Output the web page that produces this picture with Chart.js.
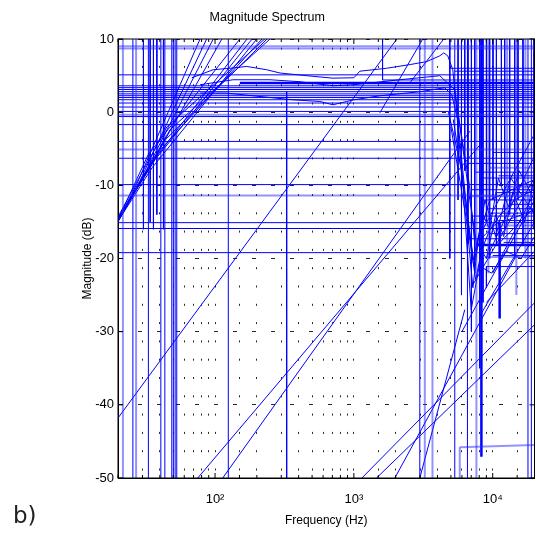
<!DOCTYPE html>
<html>
<head>
<meta charset="utf-8">
<script src="https://cdn.jsdelivr.net/npm/chart.js@4"></script>
<style>
  body { margin: 0; background: #fff; }
  #wrap { position: relative; width: 536px; height: 543px; }
  #tag { position: absolute; left: 13px; top: 502px; font: 23px "DejaVu Sans", sans-serif; color: #222; }
</style>
</head>
<body>
<div id="wrap">
  <canvas id="chart" width="536" height="543"></canvas>
  <div id="tag">b)</div>
</div>
<script>
// axis ranges / ticks
const freqRange = [20, 20000];
const dbTicks = [-50, -40, -30, -20, -10, 0, 10];
const decadeLabels = { 100: '10²', 1000: '10³', 10000: '10⁴' };

// horizontal lines spanning the whole band (dB)
const hLines = [5.1, 3.6, 3.35, 3.1, 2.8, 2.5, 2.25, 2.0, 1.7, 1.25, 0.7, 0.1, -0.6, -1.7, -4.0, -6.3, -9.9, -15.1, -15.9, -19.2];
const hLinesLight = [9.0, 8.7, -0.35, -5.1, -11.4];

// vertical lines over the whole dB range (Hz)
const vLines = [25.6, 33.1, 40.7, 43.5, 48.8, 50.1, 51.6, 53.0, 124.6, 2985, 5330, 6578, 17950, 18980];
const vLinesLight = [21.7, 27.0, 3243, 3683, 7633];

// partial verticals: [Hz, from dB, to dB]
const vParts = [
  [30.5, 10, -16], [34.1, 10, -15], [36.0, 10, -16], [38.1, 10, -14], [42.5, 10, -16],
  [328, 2.8, -50], [1609, 10, 4.4],
  [4907, 10, -20], [5628, 10, -12], [5957, 10, -25], [6290, 10, -8], [6640, 10, -18],
  [7025, 10, -30], [7424, 10, -22], [8061, 10, -35], [8515, 10, -26], [9010, 10, -15],
  [9510, 10, -20], [10050, 10, -12], [10630, 10, -18], [11550, 10, -10], [12200, 10, -16],
  [13250, 10, -14], [14390, 10, -20], [15210, 10, -12], [16520, 10, -18], [19800, 10, -16],
  [9010, -21.1, -24]
];
const vPartsThick = [[8290, 10, -47.1], [11220, -15, -28.2]];
const vPartsLight = [[5790, -45.8, -50], [9300, 10, -22], [12700, 10, -19], [14800, 10, -25], [17200, 10, -20]];

// partial horizontals: [from Hz, to Hz, dB]
const hParts = [
  [1609, 20000, 4.4], [4900, 20000, 6.0], [5300, 20000, 5.6],
  [6500, 20000, -7.0], [7500, 20000, -8.2], [8000, 20000, -9.0], [7000, 20000, -10.6],
  [8500, 20000, -12.0], [9000, 20000, -13.2], [7200, 20000, -14.2], [6500, 20000, -17.3],
  [9500, 20000, -16.6], [9010, 20000, -21.1],
  [10000, 20000, -5.5], [11000, 20000, -8.7], [10500, 20000, -11.0], [13000, 20000, -12.6],
  [9500, 20000, -13.8], [11000, 20000, -14.8], [12000, 20000, -17.8], [10000, 20000, -19.6]
];
const hPartsThick = [[151, 20000, 4.0], [8061, 20000, -18.15]];
const hPartsLight = [[7000, 20000, -11.5], [8000, 20000, -15.5], [9000, 20000, -19.8], [9500, 20000, -7.6], [12000, 20000, -10.2]];

// low-frequency bundle of slopes
const bundle = [
  [[20, -14.9], [27.5, -9.7], [78, 10]],
  [[20, -14.6], [28.9, -9.3], [87, 10]],
  [[20, -14.8], [30, -9.0], [97, 10]],
  [[20, -14.5], [31.4, -8.6], [112, 10]],
  [[20, -14.7], [33, -5.8], [151, 10]],
  [[20, -15.0], [34.1, -7.2], [170, 10]],
  [[20, -14.7], [37, -6.5], [185, 10]],
  [[20, -14.9], [35.2, -7.6], [200, 10]],
  [[20, -14.6], [40.2, -5.2], [218, 10]],
  [[20, -14.5], [43.7, -3.8], [237, 10]],
  [[20, -14.9], [47.4, -2.4], [249, 10]],
  [[20, -14.3], [45, -2.0], [228, 10]]
];

// long straight slopes
const slopes = [
  [[20, -41.8], [2040, 10]],
  [[75.1, -50], [8061, -4.5]],
  [[113.6, -50], [6839, -2.6]],
  [[1456, -50], [19900, -29.1]],
  [[1142, -50], [19900, -26.1]],
  [[1972, -50], [14890, -19.5]],
  [[2985, -50], [6290, -27]],
  [[2529, 4.0], [4440, 10]],
  [[1538, -0.1], [3135, 10]],
  [[6000, -30], [20000, -12]],
  [[7000, -24], [20000, -9]],
  [[8000, -28], [20000, -15]],
  [[9000, -26], [20000, -19]],
  [[9000, -20], [20000, -6]],
  [[10000, -22], [20000, -11]],
  [[8500, -16], [20000, -3]],
  [[11000, -18], [20000, -13]]
];

// spectrum-like curves
const curveUpper = [[68, 4.7], [97, 5.8], [128, 6.0], [169, 6.25], [235, 5.8], [294, 5.35], [507, 4.9], [706, 4.65], [1000, 4.7], [1104, 5.6], [1718, 6.0], [2529, 6.5], [3334, 6.9], [4155, 7.7], [4440, 8.1], [4746, 7.7], [5157, 5.8], [5417, 1.7], [5790, -5.2], [6290, -12], [6839, -17.5], [7544, -22.9], [8334, -18.8], [9510, -16.1], [11220, -14.1], [14390, -12], [19720, -10.6]];
const curveMid = [[78, 3.75], [135, 4.43], [249, 4.43], [409, 4.16], [706, 3.61], [1000, 3.75], [2143, 4.43], [4155, 4.98], [5330, 3.06], [5985, -3.78], [6839, -12.0], [7674, -18.15], [9510, -12.0], [19720, -9.26]];
const curveLow = [[78, 2.61], [121, 2.61], [211, 2.14], [364, 1.69], [569, 1.46], [706, 1.01], [886, 1.46], [1000, 1.69], [1538, 2.24], [2985, 2.79], [4515, 3.34], [5070, 2.38], [5600, -1.04], [6085, -7.89], [6607, -14.7], [7296, -20.2], [8061, -17.5], [10330, -15.4], [19720, -13.4]];
const zigzags = [
  [[5000, -2], [6500, -15], [7200, -24], [7800, -18], [9000, -20], [10500, -14], [12000, -17], [14000, -11], [17000, -15], [20000, -9]],
  [[5500, 1], [6800, -10], [7500, -19], [8500, -14], [9500, -16], [11000, -9], [13000, -13], [15500, -8], [20000, -12]],
  [[4800, 0], [6000, -8], [7000, -27], [8000, -21], [9800, -22], [12500, -19], [16000, -20], [20000, -17]],
  [[5200, -1], [6400, -12], [7300, -21], [8800, -12], [10500, -17], [13500, -9], [20000, -14]]
];
const floorLine = [[5790, -45.8], [20000, -45.5]];

const BLUE = '#0000ff';
const LIGHT = 'rgba(40,40,255,0.5)';
let datasets = [];
function addLine(points, color, width) {
  datasets.push({
    data: points.map(p => ({ x: p[0], y: p[1] })),
    borderColor: color,
    borderWidth: width,
    pointRadius: 0,
    fill: false,
    tension: 0
  });
}

hLinesLight.forEach(v => addLine([[freqRange[0], v], [freqRange[1], v]], LIGHT, 2));
vLinesLight.forEach(f => addLine([[f, -50], [f, 10]], LIGHT, 2));
vPartsLight.forEach(p => addLine([[p[0], p[1]], [p[0], p[2]]], LIGHT, 2));
hPartsLight.forEach(p => addLine([[p[0], p[2]], [p[1], p[2]]], LIGHT, 2));
addLine(floorLine, LIGHT, 2);

hLines.forEach(v => addLine([[freqRange[0], v], [freqRange[1], v]], BLUE, 1));
vLines.forEach(f => addLine([[f, -50], [f, 10]], BLUE, 1));
vParts.forEach(p => addLine([[p[0], p[1]], [p[0], p[2]]], BLUE, 1));
vPartsThick.forEach(p => addLine([[p[0], p[1]], [p[0], p[2]]], BLUE, 2.5));
hParts.forEach(p => addLine([[p[0], p[2]], [p[1], p[2]]], BLUE, 1));
hPartsThick.forEach(p => addLine([[p[0], p[2]], [p[1], p[2]]], BLUE, 2.5));
bundle.forEach(b => addLine(b, BLUE, 1));
slopes.forEach(s => addLine(s, BLUE, 1));
addLine(curveUpper, BLUE, 1);
addLine(curveMid, BLUE, 1);
addLine(curveLow, BLUE, 1);
zigzags.forEach(z => addLine(z, BLUE, 1));

// box + inward ticks like the original plot
const boxPlugin = {
  id: 'box',
  afterDatasetsDraw(chart) {
    const a = chart.chartArea, c = chart.ctx;
    const xs = chart.scales.x, ys = chart.scales.y;
    c.save();
    c.strokeStyle = '#000';
    c.lineWidth = 1;
    c.strokeRect(a.left, a.top, a.right - a.left, a.bottom - a.top);
    c.beginPath();
    xs.ticks.forEach(t => {
      const px = xs.getPixelForValue(t.value);
      const len = decadeLabels[t.value] ? 5 : 3;
      c.moveTo(px, a.bottom); c.lineTo(px, a.bottom - len);
      c.moveTo(px, a.top); c.lineTo(px, a.top + len);
    });
    ys.ticks.forEach(t => {
      const py = ys.getPixelForValue(t.value);
      c.moveTo(a.left, py); c.lineTo(a.left + 5, py);
      c.moveTo(a.right, py); c.lineTo(a.right - 5, py);
    });
    c.stroke();
    c.restore();
  }
};

const ctx = document.getElementById('chart').getContext('2d');
const chart = new Chart(ctx, {
  type: 'line',
  data: { datasets: datasets },
  options: {
    responsive: false,
    animation: false,
    events: [],
    layout: { padding: { left: 0, right: 1.5, top: 0, bottom: 0 } },
    plugins: {
      legend: { display: false },
      tooltip: { enabled: false },
      title: {
        display: true,
        text: 'Magnitude Spectrum',
        color: '#000',
        font: { family: 'Liberation Sans, Arial, sans-serif', size: 12.5, weight: 'normal' },
        padding: { top: 10.5, bottom: 13.5 }
      }
    },
    scales: {
      x: {
        type: 'logarithmic',
        min: freqRange[0],
        max: freqRange[1],
        afterFit(s) { s.height = 65; s.paddingLeft = 0; s.paddingRight = 0; },
        grid: { color: 'rgba(0,0,0,0.85)', lineWidth: 1, drawTicks: false },
        border: { display: true, color: '#000', dash: [2, 16.3], dashOffset: 9.7 },
        ticks: {
          autoSkip: false,
          maxRotation: 0,
          padding: 14,
          color: '#000',
          font: { family: 'Liberation Sans, Arial, sans-serif', size: 13 },
          callback: (v) => decadeLabels[v] || ''
        },
        title: {
          display: true,
          text: 'Frequency (Hz)',
          color: '#000',
          font: { family: 'Liberation Sans, Arial, sans-serif', size: 12 },
          padding: { top: 0, bottom: 14.8 }
        }
      },
      y: {
        type: 'linear',
        min: dbTicks[0],
        max: dbTicks[dbTicks.length - 1],
        afterFit(s) { s.width = 118; },
        afterBuildTicks(s) { s.ticks = dbTicks.map(v => ({ value: v })); },
        grid: { color: 'rgba(0,0,0,0.85)', lineWidth: 1, drawTicks: false },
        border: { display: true, color: '#000', dash: [4, 15], dashOffset: 0 },
        ticks: {
          padding: 4,
          color: '#000',
          font: { family: 'Liberation Sans, Arial, sans-serif', size: 13 }
        },
        title: {
          display: true,
          text: 'Magnitude (dB)',
          color: '#000',
          font: { family: 'Liberation Sans, Arial, sans-serif', size: 12 },
          padding: { top: 80.8, bottom: 0 }
        }
      }
    }
  },
  plugins: [boxPlugin]
});
</script>
</body>
</html>
